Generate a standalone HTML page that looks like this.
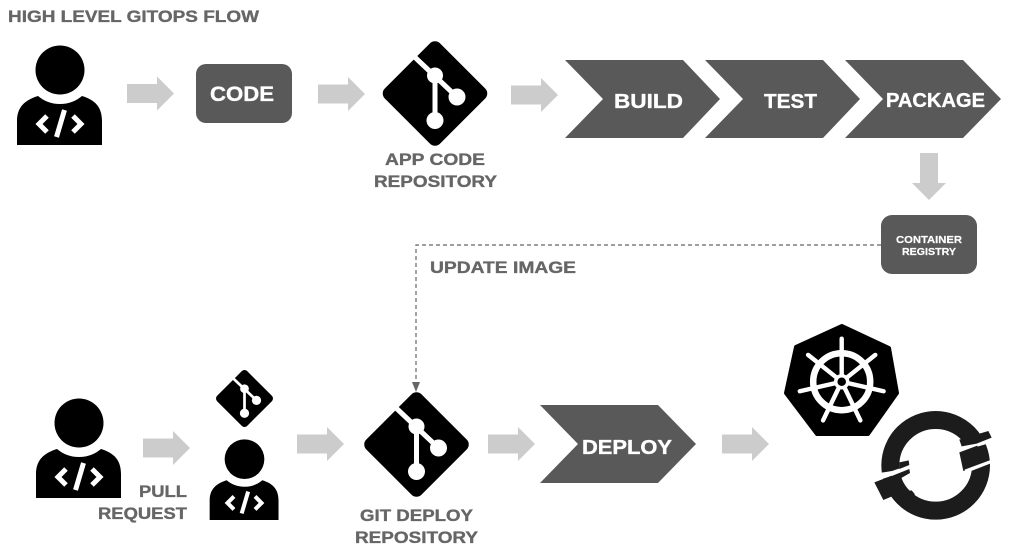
<!DOCTYPE html>
<html><head><meta charset="utf-8"><style>
html,body{margin:0;padding:0;background:#fff;width:1024px;height:554px;overflow:hidden}
svg{display:block;filter:blur(.35px)}
text{font-family:"Liberation Sans",sans-serif;font-weight:bold;fill:#666;stroke:#666;stroke-width:.35px}
text.w{fill:#fff;stroke:#fff}
</style></head><body>
<svg width="1024" height="554" viewBox="0 0 1024 554" xmlns="http://www.w3.org/2000/svg">
<defs>
<g id="person">
<circle cx="60" cy="70" r="24.5" fill="#000"/>
<path d="M17 145V121C17 107 25 100 38 96C44 101 51 104 60 104C69 104 76 101 82 96C95 100 102 107 102 121V145Z" fill="#000"/>
<path d="M47 116L39 124L47 132M73 116L81 124L73 132" fill="none" stroke="#fff" stroke-width="5"/>
<path d="M64.5 110L56.5 137" fill="none" stroke="#fff" stroke-width="5"/>
</g>
<g id="git">
<rect x="-39" y="-39" width="78" height="78" rx="7" fill="#000" transform="rotate(45)"/>
<path d="M-22 -38L22 3.5M0 -18V27" fill="none" stroke="#fff" stroke-width="5"/>
<circle cx="0" cy="-18" r="8" fill="#fff"/>
<circle cx="22" cy="3.5" r="8.5" fill="#fff"/>
<circle cx="0" cy="27" r="8.5" fill="#fff"/>
</g>
<path id="arr" d="M0 -9.5H30V-17L47 0L30 17V9.5H0Z" fill="#ccc"/>
</defs>

<text x="8" y="22" font-size="17" textLength="251" lengthAdjust="spacingAndGlyphs">HIGH LEVEL GITOPS FLOW</text>

<use href="#person"/>
<use href="#person" x="19" y="353"/>
<use href="#person" transform="translate(195.9 402.5) scale(.81)"/>

<use href="#arr" x="127" y="93.5"/>
<use href="#arr" x="318" y="94"/>
<use href="#arr" x="511" y="95"/>
<use href="#arr" x="143" y="448"/>
<use href="#arr" x="297" y="444"/>
<use href="#arr" x="488" y="444"/>
<use href="#arr" x="722" y="444"/>
<path d="M920 153H938V183H946L929 200L912 183H920Z" fill="#ccc"/>

<rect x="196" y="64" width="96" height="59" rx="10" fill="#595959"/>
<text class="w" x="210" y="101" font-size="21" textLength="64" lengthAdjust="spacingAndGlyphs">CODE</text>

<use href="#git" transform="translate(435 93.5)"/>
<text x="385" y="165" font-size="17" textLength="100" lengthAdjust="spacingAndGlyphs">APP CODE</text>
<text x="374" y="187" font-size="17" textLength="123" lengthAdjust="spacingAndGlyphs">REPOSITORY</text>

<polygon points="565,60 683,60 720,99 683,138 565,138 603,99" fill="#595959"/>
<polygon points="705,60 823,60 860,99 823,138 705,138 743,99" fill="#595959"/>
<polygon points="845,60 963,60 1001,99 963,138 845,138 883,99" fill="#595959"/>
<text class="w" x="614" y="108" font-size="20" textLength="69" lengthAdjust="spacingAndGlyphs">BUILD</text>
<text class="w" x="764" y="108" font-size="20" textLength="53" lengthAdjust="spacingAndGlyphs">TEST</text>
<text class="w" x="886" y="107" font-size="20" textLength="99" lengthAdjust="spacingAndGlyphs">PACKAGE</text>

<rect x="881" y="215" width="96" height="59" rx="11" fill="#595959"/>
<text class="w" x="896" y="243" font-size="10" textLength="66" lengthAdjust="spacingAndGlyphs" style="stroke-width:.2px">CONTAINER</text>
<text class="w" x="902" y="255" font-size="10" textLength="54" lengthAdjust="spacingAndGlyphs" style="stroke-width:.2px">REGISTRY</text>

<path d="M881 245H416V383" fill="none" stroke="#666" stroke-width="1.2" stroke-dasharray="4 3"/>
<polygon points="412,382 420,382 416,392" fill="#666"/>
<text x="430" y="273" font-size="17" textLength="146" lengthAdjust="spacingAndGlyphs">UPDATE IMAGE</text>

<text x="139" y="497" font-size="17" textLength="48" lengthAdjust="spacingAndGlyphs">PULL</text>
<text x="98" y="519" font-size="17" textLength="89" lengthAdjust="spacingAndGlyphs">REQUEST</text>

<use href="#git" transform="translate(244.5 398.5) scale(.545)"/>
<use href="#git" transform="translate(416.5 444.5)"/>
<text x="360" y="521" font-size="17" textLength="113" lengthAdjust="spacingAndGlyphs">GIT DEPLOY</text>
<text x="355" y="543" font-size="17" textLength="123" lengthAdjust="spacingAndGlyphs">REPOSITORY</text>

<polygon points="540,405 658,405 696,444 658,483 540,483 578,444" fill="#595959"/>
<text class="w" x="582" y="454" font-size="20" textLength="90" lengthAdjust="spacingAndGlyphs">DEPLOY</text>

<!-- kubernetes -->
<path d="M842 326L889 348L897 393L868 434H817L786 393L796 347Z" fill="#000" stroke="#000" stroke-width="4" stroke-linejoin="round"/>
<g transform="translate(841.7 381.7)" fill="none" stroke="#fff">
<circle r="28.5" stroke-width="6.5"/>
<g stroke-width="4.4" stroke-linecap="round">
<path d="M0 -7V-43"/>
<path d="M0 -7V-43" transform="rotate(51.43)"/>
<path d="M0 -7V-43" transform="rotate(102.86)"/>
<path d="M0 -7V-43" transform="rotate(154.29)"/>
<path d="M0 -7V-43" transform="rotate(205.71)"/>
<path d="M0 -7V-43" transform="rotate(257.14)"/>
<path d="M0 -7V-43" transform="rotate(308.57)"/>
</g>
<circle r="6" fill="#000" stroke-width="3.5"/>
</g>

<!-- openshift ring -->
<g transform="translate(870 405) scale(.33333)">
<circle cx="197" cy="181" r="136" fill="none" stroke="#1c1c1c" stroke-width="54"/>
<polygon points="20,205 66,198 118,180 120,192 70,212 25,225" fill="#fff"/>
<polygon points="258,128 320,108 372,92 380,108 325,124 262,146" fill="#fff"/>
<polygon points="268,142 322,122 335,180 280,198" fill="#1c1c1c"/>
<polygon points="284,194 365,164 370,172 288,204" fill="#fff"/>
<polygon points="13,232 65,212 95,262 40,285" fill="#1c1c1c"/>
<polygon points="268,104 355,78 365,98 320,116 275,124" fill="#1c1c1c"/>
<polygon points="88,172 116,166 118,180 88,192" fill="#1c1c1c"/>
<polygon points="68,212 118,192 120,204 78,228" fill="#1c1c1c"/>
<polygon points="90,262 125,256 135,268 100,285" fill="#1c1c1c"/>
</g>
</svg>
</body></html>
